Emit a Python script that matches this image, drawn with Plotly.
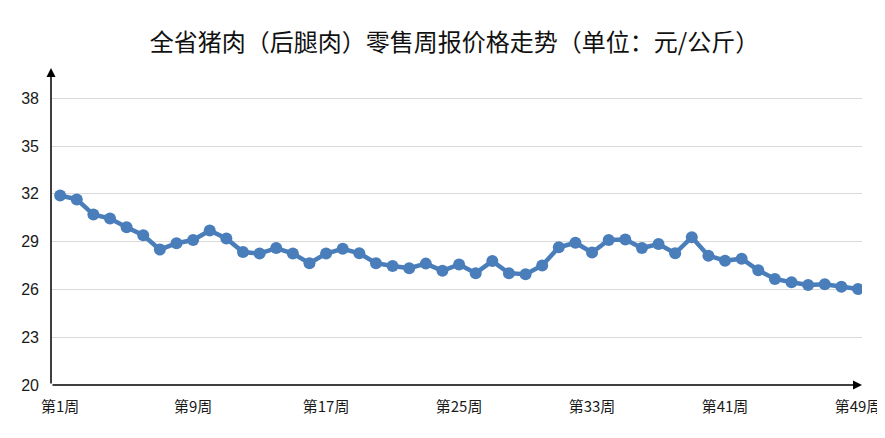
import plotly.graph_objects as go

weeks = list(range(1, 50))
prices = [31.9, 31.65, 30.7, 30.45, 29.9, 29.4, 28.5, 28.9, 29.1, 29.7,
          29.2, 28.35, 28.25, 28.6, 28.25, 27.65, 28.25, 28.55, 28.27, 27.65,
          27.47, 27.33, 27.62, 27.17, 27.57, 27.02, 27.78, 27.02, 26.95, 27.5,
          28.65, 28.93, 28.32, 29.1, 29.13, 28.6, 28.85, 28.27, 29.28, 28.12,
          27.8, 27.93, 27.2, 26.66, 26.45, 26.28, 26.32, 26.17, 26.03]
tick_weeks = [1, 9, 17, 25, 33, 41, 49]
tick_labels = ["第%d周" % w for w in tick_weeks]
y_ticks = [20, 23, 26, 29, 32, 35, 38]
title = "全省猪肉（后腿肉）零售周报价格走势（单位：元/公斤）"

# page body has an 8px default margin, so the figure is offset by (8, 8)
fig = go.Figure()
fig.add_trace(go.Scatter(
    x=weeks, y=prices, mode="lines+markers",
    line=dict(color="#4A7EBB", width=4.5),
    marker=dict(color="#4A7EBB", size=12),
    hoverinfo="x+y",
))

fig.update_layout(
    width=885, height=438,
    margin=dict(l=43, r=31, t=60, b=61),
    paper_bgcolor="white", plot_bgcolor="white",
    showlegend=False,
    title=dict(text=title, x=0.5045, xanchor="center", y=1 - 35 / 438, yanchor="middle",
               font=dict(family="Noto Sans CJK SC", size=24, color="#111")),
    xaxis=dict(range=[0.45, 49.24], tickmode="array", tickvals=tick_weeks,
               ticktext=tick_labels, showgrid=False, zeroline=False,
               showline=False, ticks="", ticklabelstandoff=11, automargin=False,
               tickfont=dict(family="Noto Sans CJK SC", size=15, color="#1a1a1a")),
    yaxis=dict(range=[20, 39.9], tickmode="array", tickvals=y_ticks,
               showgrid=True, gridcolor="#d9d9d9", gridwidth=1.3,
               zeroline=False, showline=False, ticks="", ticklabelstandoff=11,
               automargin=False,
               tickfont=dict(family="Liberation Sans", size=16, color="#1a1a1a")),
)

# axis lines with arrows
fig.add_annotation(x=0, y=1, xref="paper", yref="paper", ax=0, ay=317,
                   axref="pixel", ayref="pixel", showarrow=True, arrowhead=2,
                   arrowsize=1.2, arrowwidth=1.5, arrowcolor="#000", text="")
fig.add_annotation(x=1, y=0, xref="paper", yref="paper", ax=-811, ay=0,
                   axref="pixel", ayref="pixel", showarrow=True, arrowhead=2,
                   arrowsize=1.2, arrowwidth=1.5, arrowcolor="#000", text="")

fig.write_html("out.html")
